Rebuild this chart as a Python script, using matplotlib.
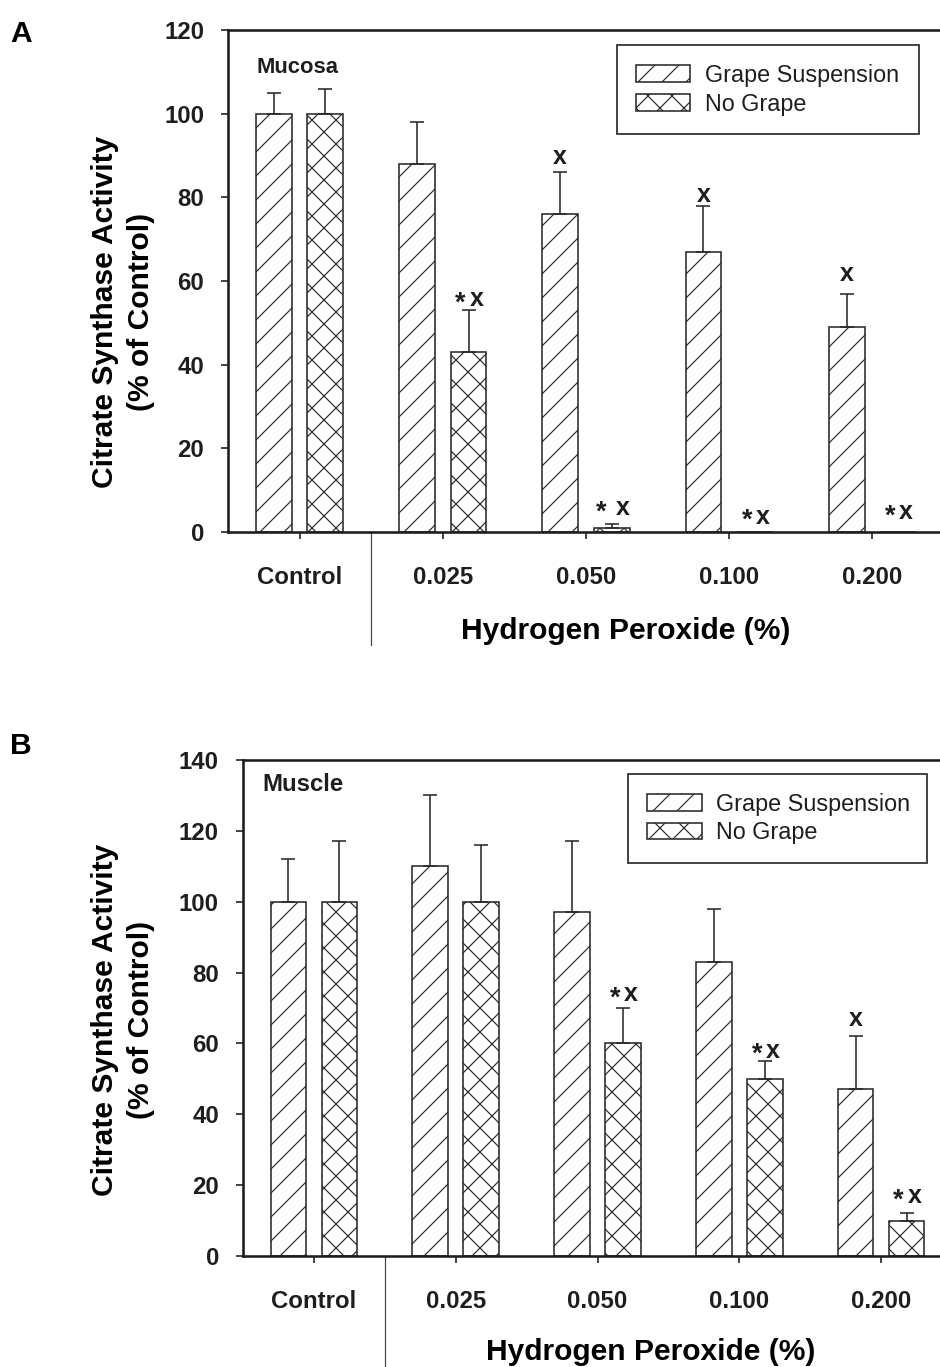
import matplotlib
matplotlib.use('Agg')
import matplotlib.pyplot as plt
import matplotlib.transforms as mtransforms
import numpy as np

plt.rcParams['font.family'] = ['Liberation Sans', 'DejaVu Sans']
plt.rcParams['font.weight'] = 'bold'
plt.rcParams['hatch.linewidth'] = 0.6
plt.rcParams['text.color'] = '#1e1e1e'

# ---------------- data ----------------
categories = ['Control', '0.025', '0.050', '0.100', '0.200']
series_names = ['Grape Suspension', 'No Grape']

# Panel A (Mucosa)
a_grape = [100, 88, 76, 67, 49]
a_grape_err = [5, 10, 10, 11, 8]
a_nogr = [100, 43, 1, 0, 0]
a_nogr_err = [6, 10, 1, 0, 0]
a_grape_marks = ['', '', 'x', 'x', 'x']
a_grape_mark_y = [0, 0, 88, 79, 60]
a_nogr_marks = ['', '*x', '* x', '*x', '*x']
a_nogr_mark_y = [0, 54, 4, 2, 3]

# Panel B (Muscle)
b_grape = [100, 110, 97, 83, 47]
b_grape_err = [12, 20, 20, 15, 15]
b_nogr = [100, 100, 60, 50, 10]
b_nogr_err = [17, 16, 10, 5, 2]
b_grape_marks = ['', '', '', '', 'x']
b_grape_mark_y = [0, 0, 0, 0, 65]
b_nogr_marks = ['', '', '*x', '*x', '*x']
b_nogr_mark_y = [0, 0, 72, 56, 15]

EC = '#2a2a2a'
DPI = 144
fig = plt.figure(figsize=(940 / DPI, 1367 / DPI), dpi=DPI)


def draw_mark(ax, xi, yy, mk):
    fs = 12.5
    if mk.startswith('*'):
        gap = 5.5 if ' ' in mk else 4.0   # half distance in points
        ax.annotate('*', (xi, yy), xytext=(-gap, -2.2), textcoords='offset points',
                    ha='center', va='baseline', fontsize=fs + 1, fontweight='bold')
        ax.annotate('x', (xi, yy), xytext=(gap, 0), textcoords='offset points',
                    ha='center', va='baseline', fontsize=fs, fontweight='bold')
    else:
        ax.text(xi, yy, mk, ha='center', va='baseline', fontsize=fs,
                fontweight='bold')


def panel(rect, grape, gerr, nogr, nerr, gmarks, gmy, nmarks, nmy, ymax,
          tissue, tissue_pos, tissue_size, ylabel_pos, xlabel_pos, leg_pos,
          sep_bottom):
    ax = fig.add_axes(rect)
    x = np.arange(len(categories))
    w, off = 0.25, 0.18
    grape = np.array(grape, float); gerr = np.array(gerr, float)
    nogr = np.array(nogr, float); nerr = np.array(nerr, float)
    b1 = ax.bar(x - off, grape, w, facecolor='white', edgecolor=EC,
                hatch='//', linewidth=0.8, label=series_names[0], zorder=2)
    b2 = ax.bar(x + off, nogr, w, facecolor='white', edgecolor=EC,
                hatch='xx', linewidth=0.8, label=series_names[1], zorder=2)
    for xs, vals, errs in ((x - off, grape, gerr), (x + off, nogr, nerr)):
        m = (vals > 0) | (errs > 0)
        ax.errorbar(xs[m], vals[m], yerr=[np.zeros(m.sum()), errs[m]],
                    fmt='none', ecolor=EC, elinewidth=0.8, capsize=3.6,
                    capthick=0.8, zorder=3)
    for xs, marks, my in ((x - off, gmarks, gmy), (x + off, nmarks, nmy)):
        for xi, mk, yy in zip(xs, marks, my):
            if mk:
                draw_mark(ax, xi, yy, mk)
    ax.set_xlim(-0.5, len(categories) - 0.5)
    ax.set_ylim(0, ymax)
    ax.set_yticks(np.arange(0, ymax + 1, 20))
    ax.set_xticks(x)
    ax.set_xticklabels(categories)
    for s in ('left', 'top', 'bottom'):
        ax.spines[s].set_linewidth(1.3)
        ax.spines[s].set_color('#1e1e1e')
    ax.spines['right'].set_visible(False)
    ax.tick_params(axis='both', direction='out', length=3.5, width=0.9,
                   color='#333333', labelsize=12, labelcolor='#1e1e1e')
    ax.tick_params(axis='x', pad=13.5)
    ax.tick_params(axis='y', pad=8.5)
    ax.set_ylabel('Citrate Synthase Activity\n(% of Control)', fontsize=15,
                  fontweight='bold', linespacing=1.35)
    ax.yaxis.set_label_coords(*ylabel_pos)
    ax.set_xlabel('Hydrogen Peroxide (%)', fontsize=15, fontweight='bold')
    ax.xaxis.set_label_coords(*xlabel_pos)
    ax.text(tissue_pos[0], tissue_pos[1], tissue, transform=ax.transAxes,
            ha='left', va='baseline', fontsize=tissue_size, fontweight='bold')
    trans = mtransforms.blended_transform_factory(ax.transData, ax.transAxes)
    xsep = (x[0] + x[1]) / 2
    ax.plot([xsep, xsep], [0, sep_bottom], transform=trans, clip_on=False,
            color='#444444', lw=0.6)
    leg = ax.legend(handles=[b1, b2], loc='upper left',
                    bbox_to_anchor=(leg_pos[0], leg_pos[1], leg_pos[2], 0),
                    mode='expand', frameon=True, fancybox=False,
                    edgecolor='#333333', framealpha=1,
                    prop={'size': 11.7, 'weight': 'normal'},
                    handlelength=2.35, handleheight=0.7, handletextpad=0.6,
                    labelspacing=0.25, borderpad=0.8, borderaxespad=0)
    leg.get_frame().set_linewidth(0.9)
    return ax


axA = panel([228 / 940, 1 - 532 / 1367, 716 / 940, 502 / 1367],
            a_grape, a_grape_err, a_nogr, a_nogr_err,
            a_grape_marks, a_grape_mark_y, a_nogr_marks, a_nogr_mark_y,
            120, 'Mucosa', (0.0405, 0.915), 11,
            (-0.102, 0.438), (0.556, -0.169), (0.543, 0.970, 0.422), -0.226)

axB = panel([243 / 940, 1 - 1256 / 1367, 709 / 940, 496 / 1367],
            b_grape, b_grape_err, b_nogr, b_nogr_err,
            b_grape_marks, b_grape_mark_y, b_nogr_marks, b_nogr_mark_y,
            140, 'Muscle', (0.0268, 0.938), 12,
            (-0.124, 0.476), (0.575, -0.165), (0.543, 0.972, 0.422), -0.24)

fig.text(10 / 940, 1 - 20 / 1367, 'A', ha='left', va='top', fontsize=15,
         fontweight='bold', color='black')
fig.text(10 / 940, 1 - 732 / 1367, 'B', ha='left', va='top', fontsize=15,
         fontweight='bold', color='black')

fig.savefig('out.png', dpi=DPI, facecolor='white')
